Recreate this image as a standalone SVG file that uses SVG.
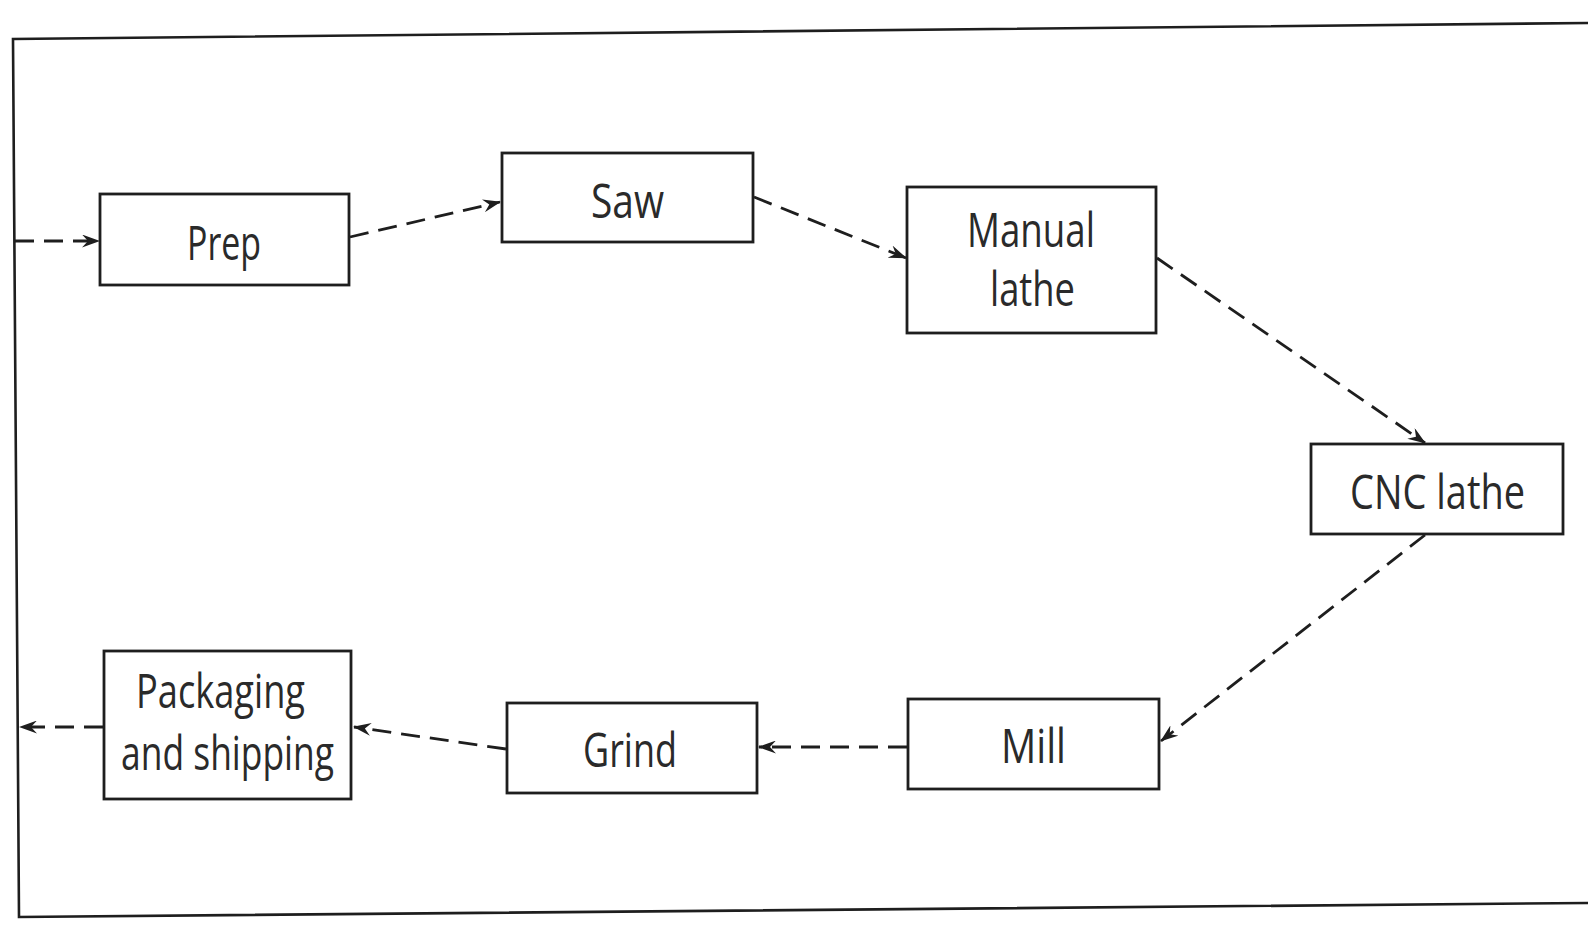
<svg xmlns="http://www.w3.org/2000/svg" width="1588" height="936" viewBox="0 0 1588 936">
  <defs>
    <style>
      .frame { fill: none; stroke: #1e1e1e; stroke-width: 2.6; }
      .box { fill: #ffffff; stroke: #1e1e1e; stroke-width: 2.8; }
      .label { font-family: "Open Sans", "Noto Sans", "Liberation Sans", sans-serif; font-size: 48px; fill: #2a2a2a; }
      .flow { fill: none; stroke: #1e1e1e; stroke-width: 2.8; stroke-dasharray: 19 10; marker-end: url(#arrow); }
    </style>
    <marker id="arrow" viewBox="0 0 18 13" refX="17" refY="6.5" markerWidth="18" markerHeight="13" markerUnits="userSpaceOnUse" orient="auto">
      <path d="M0,0 L18,6.5 L0,13 L6,6.5 Z" fill="#1e1e1e"/>
    </marker>
  </defs>

  <rect x="0" y="0" width="1588" height="936" fill="#ffffff"/>

  <!-- outer boundary, open on the right -->
  <polyline class="frame" points="1588,23 13,39 19,917 1588,903"/>

  <!-- process steps -->
  <g id="prep">
    <rect class="box" x="100" y="194" width="249" height="91"/>
    <text class="label" x="187" y="260" textLength="74" lengthAdjust="spacingAndGlyphs">Prep</text>
  </g>
  <g id="saw">
    <rect class="box" x="502" y="153" width="251" height="89"/>
    <text class="label" x="591" y="218" textLength="73" lengthAdjust="spacingAndGlyphs">Saw</text>
  </g>
  <g id="manual-lathe">
    <rect class="box" x="907" y="187" width="249" height="146"/>
    <text class="label" x="967" y="247" textLength="128" lengthAdjust="spacingAndGlyphs">Manual</text>
    <text class="label" x="990" y="306" textLength="85" lengthAdjust="spacingAndGlyphs">lathe</text>
  </g>
  <g id="cnc-lathe">
    <rect class="box" x="1311" y="444" width="252" height="90"/>
    <text class="label" x="1350" y="509" textLength="175" lengthAdjust="spacingAndGlyphs">CNC lathe</text>
  </g>
  <g id="mill">
    <rect class="box" x="908" y="699" width="251" height="90"/>
    <text class="label" x="1001" y="763" textLength="65" lengthAdjust="spacingAndGlyphs">Mill</text>
  </g>
  <g id="grind">
    <rect class="box" x="507" y="703" width="250" height="90"/>
    <text class="label" x="583" y="767" textLength="94" lengthAdjust="spacingAndGlyphs">Grind</text>
  </g>
  <g id="packaging">
    <rect class="box" x="104" y="651" width="247" height="148"/>
    <text class="label" x="136" y="708" textLength="169" lengthAdjust="spacingAndGlyphs">Packaging</text>
    <text class="label" x="121" y="770" textLength="213" lengthAdjust="spacingAndGlyphs">and shipping</text>
  </g>

  <!-- material flow -->
  <g id="connectors">
    <line class="flow" x1="15" y1="241" x2="99" y2="241"/>
    <line class="flow" x1="350" y1="237" x2="500" y2="202"/>
    <line class="flow" x1="754" y1="197" x2="906" y2="258"/>
    <line class="flow" x1="1157" y1="258" x2="1425" y2="443"/>
    <line class="flow" x1="1425" y1="535" x2="1161" y2="741"/>
    <line class="flow" x1="907" y1="747" x2="759" y2="747"/>
    <line class="flow" x1="506" y1="749" x2="354" y2="727"/>
    <line class="flow" x1="103" y1="727" x2="20" y2="727"/>
  </g>
</svg>
